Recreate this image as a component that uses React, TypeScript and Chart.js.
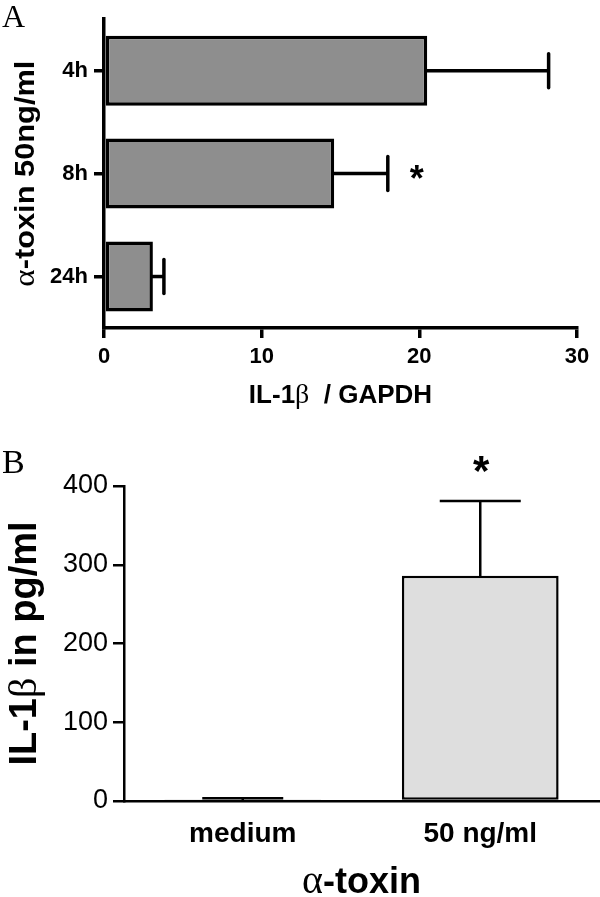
import React, { useEffect, useRef } from 'react';
import { Chart, registerables } from 'chart.js';

Chart.register(...registerables);

const SANS = "'Liberation Sans', Arial, Helvetica, sans-serif";
const SERIF = "'Liberation Serif', 'Times New Roman', Times, serif";

// ---- Panel A data (horizontal bars) ----
const aCategories = ['4h', '8h', '24h'];
const aValues = [20.5, 14.6, 3.1];
const aErrors = [7.7, 3.4, 0.7];
const aSignificance = ['', '*', ''];
const aTicks = [0, 10, 20, 30];

// ---- Panel B data (vertical bars) ----
const bCategories = ['medium', '50 ng/ml'];
const bValues = [2, 286];
const bErrors = [1.5, 95];
const bSignificance = ['', '*'];
const bTicks = [0, 100, 200, 300, 400];

type Seg = { text: string; font: string };

function drawRich(ctx: CanvasRenderingContext2D, segs: Seg[], x: number, y: number, rotate: boolean, stretch = 1) {
  ctx.save();
  ctx.translate(x, y);
  if (rotate) ctx.rotate(-Math.PI / 2);
  ctx.scale(stretch, 1);
  let total = 0;
  const widths = segs.map((s) => {
    ctx.font = s.font;
    const w = ctx.measureText(s.text).width;
    total += w;
    return w;
  });
  let cx = -total / 2;
  ctx.textAlign = 'left';
  ctx.textBaseline = 'alphabetic';
  ctx.fillStyle = '#000';
  segs.forEach((s, i) => {
    ctx.font = s.font;
    ctx.fillText(s.text, cx, 0);
    cx += widths[i];
  });
  ctx.restore();
}

function drawStar(ctx: CanvasRenderingContext2D, text: string, cx: number, cy: number, size: number) {
  ctx.save();
  ctx.font = `bold ${size}px ${SANS}`;
  ctx.fillStyle = '#000';
  ctx.textAlign = 'center';
  ctx.textBaseline = 'alphabetic';
  ctx.fillText(text, cx, cy + 0.48 * size);
  ctx.restore();
}

const aPlugin = {
  id: 'panelA',
  afterDatasetsDraw(chart: any) {
    const ctx = chart.ctx as CanvasRenderingContext2D;
    const xs = chart.scales.x;
    const ys = chart.scales.y;
    ctx.save();
    ctx.strokeStyle = '#000';
    ctx.lineWidth = 3.5;
    aValues.forEach((v, i) => {
      const py = ys.getPixelForValue(i);
      const x0 = xs.getPixelForValue(v) - 1;
      const x1 = xs.getPixelForValue(v + aErrors[i]);
      ctx.lineCap = 'butt';
      ctx.beginPath();
      ctx.moveTo(x0, py);
      ctx.lineTo(x1, py);
      ctx.stroke();
      ctx.lineCap = 'round';
      ctx.beginPath();
      ctx.moveTo(x1, py - 17);
      ctx.lineTo(x1, py + 17);
      ctx.stroke();
      if (aSignificance[i]) drawStar(ctx, aSignificance[i], x1 + 29, py, 36);
    });
    ctx.restore();
  },
  afterDraw(chart: any) {
    const ctx = chart.ctx as CanvasRenderingContext2D;
    const ca = chart.chartArea;
    ctx.save();
    ctx.fillStyle = '#000';
    ctx.font = `32px ${SERIF}`;
    ctx.textAlign = 'left';
    ctx.textBaseline = 'alphabetic';
    ctx.fillText('A', 2, 27);
    ctx.restore();
    drawRich(
      ctx,
      [
        { text: 'α', font: `30px ${SERIF}` },
        { text: '-toxin 50ng/ml', font: `bold 28px ${SANS}` },
      ],
      34,
      (ca.top + ca.bottom) / 2,
      true,
      1.1
    );
    drawRich(
      ctx,
      [
        { text: 'IL-1', font: `bold 26px ${SANS}` },
        { text: 'β', font: `28px ${SERIF}` },
        { text: '  / GAPDH', font: `bold 26px ${SANS}` },
      ],
      (ca.left + ca.right) / 2,
      403,
      false
    );
  },
};

const bPlugin = {
  id: 'panelB',
  afterDatasetsDraw(chart: any) {
    const ctx = chart.ctx as CanvasRenderingContext2D;
    const xs = chart.scales.x;
    const ys = chart.scales.y;
    ctx.save();
    ctx.strokeStyle = '#000';
    ctx.lineWidth = 2.5;
    ctx.lineCap = 'butt';
    bValues.forEach((v, i) => {
      const px = xs.getPixelForValue(i);
      const y0 = ys.getPixelForValue(v) + 1;
      const y1 = ys.getPixelForValue(v + bErrors[i]);
      ctx.beginPath();
      ctx.moveTo(px, y0);
      ctx.lineTo(px, y1);
      ctx.moveTo(px - 40.5, y1);
      ctx.lineTo(px + 40.5, y1);
      ctx.stroke();
      if (bSignificance[i]) drawStar(ctx, bSignificance[i], px + 1, y1 - 36, 42);
    });
    ctx.restore();
  },
  afterDraw(chart: any) {
    const ctx = chart.ctx as CanvasRenderingContext2D;
    const ca = chart.chartArea;
    ctx.save();
    ctx.fillStyle = '#000';
    ctx.font = `34px ${SERIF}`;
    ctx.textAlign = 'left';
    ctx.textBaseline = 'alphabetic';
    ctx.fillText('B', 2, 33);
    ctx.restore();
    drawRich(
      ctx,
      [
        { text: 'IL-1', font: `bold 38px ${SANS}` },
        { text: 'β', font: `40px ${SERIF}` },
        { text: ' in pg/ml', font: `bold 38px ${SANS}` },
      ],
      36,
      (ca.top + ca.bottom) / 2,
      true
    );
    drawRich(
      ctx,
      [
        { text: 'α', font: `40px ${SERIF}` },
        { text: '-toxin', font: `bold 36px ${SANS}` },
      ],
      (ca.left + ca.right) / 2,
      453,
      false
    );
  },
};

function configA(): any {
  return {
    type: 'bar',
    data: {
      labels: aCategories,
      datasets: [
        {
          data: aValues,
          backgroundColor: '#8e8e8e',
          borderColor: '#000',
          borderWidth: 3.5,
          borderSkipped: false,
          barPercentage: 0.68,
          categoryPercentage: 1,
        },
      ],
    },
    options: {
      indexAxis: 'y',
      responsive: false,
      animation: false,
      layout: { padding: { left: 0, top: 12, right: 23, bottom: 0 } },
      plugins: { legend: { display: false }, tooltip: { enabled: false } },
      scales: {
        x: {
          type: 'linear',
          min: 0,
          max: 30,
          afterBuildTicks: (s: any) => {
            s.ticks = aTicks.map((v) => ({ value: v }));
          },
          ticks: { font: { family: SANS, size: 22, weight: 'bold' }, color: '#000', padding: 6 },
          grid: { display: true, drawOnChartArea: false, drawTicks: true, tickLength: 10, color: '#000', lineWidth: 3.5 },
          border: { display: true, color: '#000', width: 3.5 },
          afterFit: (s: any) => {
            s.height = 92;
          },
        },
        y: {
          type: 'category',
          ticks: { font: { family: SANS, size: 22, weight: 'bold' }, color: '#000', padding: 6 },
          grid: { display: true, offset: false, drawOnChartArea: false, drawTicks: true, tickLength: 10, color: '#000', lineWidth: 3.5 },
          border: { display: true, color: '#000', width: 3.5 },
          afterFit: (s: any) => {
            s.width = 104;
          },
        },
      },
    },
    plugins: [aPlugin],
  };
}

function configB(): any {
  return {
    type: 'bar',
    data: {
      labels: bCategories,
      datasets: [
        {
          data: bValues,
          backgroundColor: '#dedede',
          borderColor: '#000',
          borderWidth: 2.5,
          borderSkipped: false,
          barPercentage: 0.66,
          categoryPercentage: 1,
        },
      ],
    },
    options: {
      responsive: false,
      animation: false,
      layout: { padding: { left: 0, top: 46, right: 1, bottom: 0 } },
      plugins: { legend: { display: false }, tooltip: { enabled: false } },
      scales: {
        x: {
          type: 'category',
          ticks: { font: { family: SANS, size: 28, weight: 'bold' }, color: '#000', padding: 16 },
          grid: { display: false, drawTicks: false },
          border: { display: true, color: '#000', width: 2.5 },
          afterFit: (s: any) => {
            s.height = 96;
          },
        },
        y: {
          type: 'linear',
          min: 0,
          max: 400,
          afterBuildTicks: (s: any) => {
            s.ticks = bTicks.map((v) => ({ value: v }));
          },
          ticks: { font: { family: SANS, size: 27, weight: 'normal' }, color: '#000', padding: 5 },
          grid: { display: true, drawOnChartArea: false, drawTicks: true, tickLength: 11, color: '#000', lineWidth: 2.5 },
          border: { display: true, color: '#000', width: 2.5 },
          afterFit: (s: any) => {
            s.width = 124;
          },
        },
      },
    },
    plugins: [bPlugin],
  };
}

function Panel({ make, top, height }: { make: () => any; top: number; height: number }) {
  const ref = useRef<HTMLCanvasElement | null>(null);
  useEffect(() => {
    if (!ref.current) return;
    const chart = new Chart(ref.current, make());
    return () => chart.destroy();
  }, []);
  return (
    <canvas
      ref={ref}
      width={600}
      height={height}
      style={{ position: 'absolute', left: 0, top, width: 600, height, display: 'block' }}
    />
  );
}

export default function App() {
  return (
    <div style={{ position: 'absolute', left: 0, top: 0, width: 600, height: 897, background: '#fff' }}>
      <Panel make={configA} top={0} height={420} />
      <Panel make={configB} top={440} height={457} />
    </div>
  );
}
